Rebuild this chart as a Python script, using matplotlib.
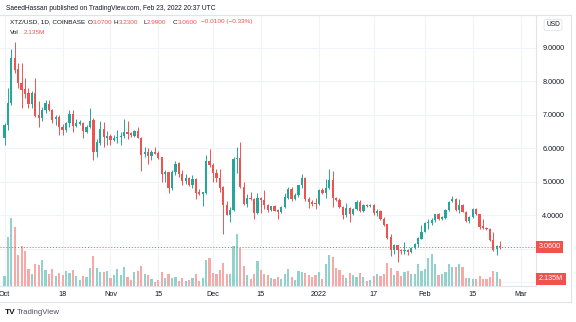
import matplotlib
matplotlib.use('Agg')
import matplotlib.pyplot as plt
import matplotlib.dates as mdates
import datetime as dt

# XTZ/USD daily candles, Oct 1 2021 .. Feb 23 2022
start = dt.date(2021, 10, 1)
opens = [6.30, 6.69, 7.34, 8.70, 8.35, 7.96, 7.77, 7.64, 7.31, 7.64,
         6.99, 6.91, 7.14, 7.32, 7.14, 6.87, 6.92, 6.64, 6.54, 6.74,
         7.01, 6.67, 6.73, 6.76, 6.47, 6.64, 6.84, 5.90, 6.15, 6.57,
         6.32, 6.38, 6.25, 6.30, 6.35, 6.38, 6.48, 6.45, 6.38, 6.51,
         6.32, 5.82, 5.88, 5.78, 5.88, 5.85, 5.74, 5.22, 5.28, 4.81,
         5.28, 5.55, 5.22, 5.02, 5.12, 4.90, 5.08, 4.68, 4.63, 4.66,
         5.62, 5.50, 5.25, 5.10, 4.83, 4.31, 4.01, 4.16, 5.68, 5.70,
         4.85, 4.33, 4.53, 4.49, 4.06, 4.53, 4.46, 4.30, 4.16, 4.27,
         4.15, 4.11, 4.26, 4.53, 4.79, 4.50, 4.60, 4.89, 5.12, 4.49,
         4.39, 4.36, 4.35, 4.76, 4.66, 4.81, 5.06, 4.51, 4.45, 4.26,
         4.01, 4.23, 4.03, 4.19, 4.41, 4.13, 4.32, 4.28, 4.31, 4.06,
         4.13, 3.89, 3.73, 3.36, 2.97, 3.10, 2.97, 2.94, 2.97, 2.90,
         3.02, 3.14, 3.30, 3.51, 3.76, 3.77, 3.86, 4.03, 3.89, 3.92,
         4.16, 4.43, 4.49, 4.16, 4.31, 4.11, 3.84, 3.94, 4.19, 4.03,
         3.68, 3.63, 3.60, 3.26, 2.99, 3.07]
highs = [6.75, 7.79, 8.96, 9.16, 8.53, 8.53, 8.10, 7.80, 7.70, 8.10,
         7.40, 7.24, 7.44, 7.44, 7.17, 6.99, 6.99, 6.71, 6.77, 7.14,
         7.14, 6.87, 6.84, 6.79, 6.69, 7.21, 6.91, 6.28, 6.81, 6.77,
         6.50, 6.42, 6.40, 6.55, 6.48, 6.87, 6.81, 6.47, 6.54, 6.64,
         6.35, 6.05, 6.00, 5.95, 6.05, 5.92, 5.75, 5.35, 5.30, 5.35,
         5.62, 5.60, 5.35, 5.22, 5.15, 5.20, 5.12, 4.78, 4.68, 5.80,
         5.98, 5.55, 5.38, 5.38, 4.86, 4.43, 4.25, 5.75, 6.05, 6.20,
         5.00, 4.63, 4.70, 4.51, 4.66, 4.55, 4.74, 4.35, 4.29, 4.31,
         4.20, 4.29, 4.66, 4.83, 4.83, 4.67, 4.91, 5.22, 5.15, 4.56,
         4.46, 4.51, 4.78, 4.81, 5.08, 5.37, 5.32, 4.54, 4.51, 4.29,
         4.36, 4.26, 4.21, 4.46, 4.46, 4.33, 4.35, 4.35, 4.33, 4.18,
         4.16, 3.95, 3.75, 3.43, 3.13, 3.12, 3.00, 3.20, 3.00, 3.04,
         3.16, 3.36, 3.70, 3.80, 3.90, 3.92, 4.05, 4.06, 3.98, 4.18,
         4.43, 4.58, 4.52, 4.49, 4.33, 4.13, 3.99, 4.23, 4.22, 4.05,
         3.90, 3.66, 3.62, 3.49, 3.10, 3.23]
lows = [6.10, 6.54, 7.30, 8.23, 7.79, 7.19, 7.49, 7.20, 7.20, 6.94,
        6.64, 6.81, 7.04, 7.10, 6.74, 6.70, 6.40, 6.40, 6.49, 6.64,
        6.47, 6.64, 6.70, 6.30, 6.44, 6.59, 5.65, 5.75, 6.10, 6.05,
        6.10, 6.10, 6.22, 6.15, 6.10, 6.30, 6.28, 6.35, 6.35, 6.30,
        5.32, 5.75, 5.52, 5.65, 5.82, 5.68, 5.00, 5.00, 4.66, 4.76,
        5.20, 5.15, 4.90, 4.92, 4.88, 4.80, 4.50, 4.60, 4.29, 4.63,
        5.45, 5.00, 5.00, 4.70, 3.43, 4.00, 3.80, 4.13, 5.25, 4.82,
        4.30, 4.26, 4.46, 3.90, 4.03, 4.06, 4.20, 4.11, 4.13, 4.12,
        3.90, 4.06, 4.23, 4.49, 4.42, 4.46, 4.56, 4.81, 4.43, 4.23,
        4.29, 4.20, 4.32, 4.63, 4.51, 4.78, 4.26, 4.42, 4.21, 3.89,
        3.96, 3.79, 4.01, 4.16, 4.11, 4.09, 4.25, 4.24, 4.02, 3.98,
        3.85, 3.68, 3.30, 2.78, 2.85, 2.62, 2.85, 2.85, 2.80, 2.87,
        2.99, 3.05, 3.28, 3.50, 3.60, 3.70, 3.80, 3.86, 3.85, 3.88,
        4.13, 4.40, 4.14, 4.06, 4.09, 3.80, 3.76, 3.92, 4.01, 3.60,
        3.60, 3.55, 3.24, 2.94, 2.82, 2.99]
closes = [6.69, 7.34, 8.70, 8.33, 7.94, 7.74, 7.61, 7.31, 7.64, 6.96,
          6.91, 7.14, 7.34, 7.14, 6.84, 6.92, 6.64, 6.54, 6.74, 7.01,
          6.67, 6.74, 6.78, 6.50, 6.64, 6.81, 5.90, 6.18, 6.57, 6.35,
          6.38, 6.25, 6.30, 6.35, 6.38, 6.48, 6.42, 6.40, 6.51, 6.32,
          5.80, 5.88, 5.78, 5.88, 5.84, 5.72, 5.22, 5.28, 4.81, 5.30,
          5.52, 5.22, 5.02, 5.12, 4.90, 5.08, 4.66, 4.63, 4.68, 5.62,
          5.50, 5.25, 5.10, 4.81, 4.31, 4.02, 4.16, 5.68, 5.70, 4.85,
          4.33, 4.53, 4.49, 4.06, 4.53, 4.45, 4.30, 4.16, 4.27, 4.14,
          4.11, 4.26, 4.56, 4.79, 4.50, 4.60, 4.89, 5.12, 4.49, 4.39,
          4.35, 4.33, 4.75, 4.66, 4.81, 5.06, 4.51, 4.45, 4.26, 4.01,
          4.23, 4.03, 4.19, 4.41, 4.13, 4.31, 4.28, 4.32, 4.06, 4.13,
          3.89, 3.71, 3.33, 2.97, 3.10, 2.97, 2.94, 2.97, 2.90, 3.02,
          3.14, 3.33, 3.51, 3.76, 3.79, 3.86, 4.03, 3.89, 3.94, 4.16,
          4.41, 4.49, 4.16, 4.31, 4.11, 3.83, 3.94, 4.19, 4.03, 3.66,
          3.63, 3.59, 3.26, 2.97, 3.07, 3.06]
# volume in millions
volumes = [2.9, 14.4, 19.7, 17.1, 9.0, 11.7, 10.2, 4.9, 3.6, 6.3,
           6.1, 7.6, 4.7, 3.6, 4.9, 3.0, 3.8, 3.2, 4.4, 3.8,
           4.8, 2.8, 1.7, 2.9, 2.7, 5.1, 8.7, 5.1, 4.2, 4.0,
           4.4, 2.4, 3.2, 4.9, 3.2, 5.4, 2.5, 1.7, 4.0, 4.4,
           5.8, 3.5, 3.3, 1.9, 1.3, 1.7, 4.0, 2.4, 3.5, 2.2,
           2.5, 1.6, 2.2, 1.6, 1.8, 2.4, 3.4, 1.5, 2.4, 7.6,
           8.2, 3.8, 3.4, 4.6, 6.6, 3.4, 3.5, 11.6, 15.0, 11.2,
           5.9, 3.2, 1.9, 3.6, 7.3, 4.8, 3.6, 3.2, 2.2, 2.0,
           2.5, 1.9, 3.6, 4.9, 2.7, 1.7, 4.4, 4.0, 3.8, 3.2,
           2.5, 3.2, 4.0, 2.0, 6.3, 9.0, 8.4, 5.1, 4.7, 3.2,
           2.4, 3.8, 3.2, 2.7, 3.8, 2.5, 1.6, 1.7, 2.9, 3.4,
           2.9, 3.6, 6.7, 5.1, 3.2, 4.4, 3.0, 4.0, 4.4, 3.6,
           3.6, 6.4, 4.5, 4.9, 8.2, 9.2, 6.3, 3.2, 3.6, 4.2,
           6.4, 5.4, 5.4, 6.3, 5.4, 2.2, 2.4, 1.9, 1.9, 2.9,
           1.9, 1.9, 2.7, 4.4, 4.1, 2.135]

price_ticks = [2, 3, 4, 5, 6, 7, 8, 9]
date_ticks = [dt.date(2021, 10, 1), dt.date(2021, 10, 18), dt.date(2021, 11, 1),
              dt.date(2021, 11, 15), dt.date(2021, 12, 1), dt.date(2021, 12, 15),
              dt.date(2022, 1, 1), dt.date(2022, 1, 17), dt.date(2022, 2, 1),
              dt.date(2022, 2, 15), dt.date(2022, 3, 1)]
date_labels = ['Oct', '18', 'Nov', '15', 'Dec', '15', '2022', '17', 'Feb', '15', 'Mar']

UP = '#26a69a'
DOWN = '#ef5350'
UP_VOL = '#92d2cc'
DOWN_VOL = '#f7a9a7'
GRID = '#f0f3fa'
FRAME = '#e0e3eb'
TEXT = '#131722'

plt.rcParams['font.family'] = ['Liberation Sans', 'DejaVu Sans']

W, H = 576, 322
fig = plt.figure(figsize=(W / 100, H / 100), dpi=100)
fig.patch.set_facecolor('white')

rect = [0, 1 - 286 / H, 536 / W, (286 - 15) / H]
base = fig.add_axes(rect)
vax = fig.add_axes(rect, sharex=base)
pax = fig.add_axes(rect, sharex=base, sharey=base)
for a in (vax, pax):
    a.patch.set_visible(False)
    a.axis('off')

x = mdates.date2num([start + dt.timedelta(days=i) for i in range(len(opens))])
up = [c >= o for o, c in zip(opens, closes)]
cols = [UP if u else DOWN for u in up]
vcols = [UP_VOL if u else DOWN_VOL for u in up]

# volume
vax.bar(x, volumes, width=0.64, color=vcols, linewidth=0)
vax.set_ylim(0, 78.9)

# candles
pax.vlines(x, lows, highs, colors=cols, linewidth=0.7)
bottoms = [min(o, c) for o, c in zip(opens, closes)]
heights = [max(abs(c - o), 0.02) for o, c in zip(opens, closes)]
pax.bar(x, heights, bottom=bottoms, width=0.66, color=cols, linewidth=0)
pax.axhline(closes[-1], color=DOWN, linewidth=0.7, linestyle=(0, (1, 2)))

x0 = mdates.date2num(start)
base.set_xlim(x0 - 1.32, x0 + 155.5)
base.set_ylim(1.89, 9.975)

# grid + scale labels on base (2 and 3 sit under the red boxes)
base.set_xticks(mdates.date2num(date_ticks))
base.set_xticklabels(date_labels)
base.set_yticks(price_ticks)
base.set_yticklabels(['' if p < 4 else '%.4f' % p for p in price_ticks])
base.yaxis.tick_right()
base.tick_params(axis='both', length=0, labelsize=5.2, colors=TEXT)
base.tick_params(axis='y', pad=4.5)
base.tick_params(axis='x', pad=3.5)
base.grid(True, color=GRID, linewidth=0.8)
base.set_axisbelow(True)
for s in ('top', 'left'):
    base.spines[s].set_visible(False)
for s in ('right', 'bottom'):
    base.spines[s].set_color(FRAME)
    base.spines[s].set_linewidth(0.8)

# last price / volume boxes on the scale
pax.annotate('%.4f' % closes[-1], xy=(1.0, closes[-1]),
             xycoords=('axes fraction', 'data'), xytext=(2, 0),
             textcoords='offset points', ha='left', va='center',
             fontsize=5.2, color='white', annotation_clip=False,
             bbox=dict(boxstyle='square,pad=0.35', fc=DOWN, ec='none'))
vax.annotate('%.3fM' % volumes[-1], xy=(1.0, volumes[-1]),
             xycoords=('axes fraction', 'data'), xytext=(2, 0),
             textcoords='offset points', ha='left', va='center',
             fontsize=5.2, color='white', annotation_clip=False,
             bbox=dict(boxstyle='square,pad=0.35', fc=DOWN, ec='none'))

# outer frame of the widget
fx = lambda px: px / W
fy = lambda py: 1 - py / H
for xs, ys in [([0, 571], [15, 15]), ([571, 571], [15, 302]),
               ([0, 571], [302, 302])]:
    fig.add_artist(plt.Line2D([fx(v) for v in xs], [fy(v) for v in ys],
                              color=FRAME, linewidth=0.8))

fig.text(fx(553), fy(25), 'USD', fontsize=4.8, color=TEXT, ha='center', va='center',
         bbox=dict(boxstyle='round,pad=0.3', fc='white', ec=FRAME, lw=0.6))

# header text
fig.text(fx(6), fy(8), 'SaeedHassan published on TradingView.com, Feb 23, 2022 20:37 UTC',
         fontsize=4.8, color=TEXT, ha='left', va='center')

o, h, l, c = opens[-1], highs[-1], lows[-1], closes[-1]
chg = c - closes[-2]
legend_parts = [(10, 'XTZ/USD, 1D, COINBASE', TEXT),
                (88, 'O', TEXT), (92.5, '%.4f' % o, DOWN),
                (114, 'H', TEXT), (118.5, '%.4f' % h, DOWN),
                (143, 'L', TEXT), (146.5, '%.4f' % l, DOWN),
                (173, 'C', TEXT), (177.5, '%.4f' % c, DOWN),
                (201, '\u2212%.4f (\u2212%.2f%%)' % (abs(chg), abs(chg) / closes[-2] * 100), DOWN)]
for xp, s, color in legend_parts:
    fig.text(fx(xp), fy(22), s, fontsize=4.6, color=color, ha='left', va='center')

fig.text(fx(10), fy(33), 'Vol', fontsize=4.6, color=TEXT, ha='left', va='center')
fig.text(fx(24), fy(33), '%.3fM' % volumes[-1], fontsize=4.6, color=DOWN,
         ha='left', va='center')

# logo
fig.text(fx(5), fy(312), 'TV', fontsize=6, fontweight='bold', color=TEXT, ha='left', va='center')
fig.text(fx(17), fy(312), 'TradingView', fontsize=5.6, color='#50535e', ha='left', va='center')

fig.savefig('out.png', dpi=100)
